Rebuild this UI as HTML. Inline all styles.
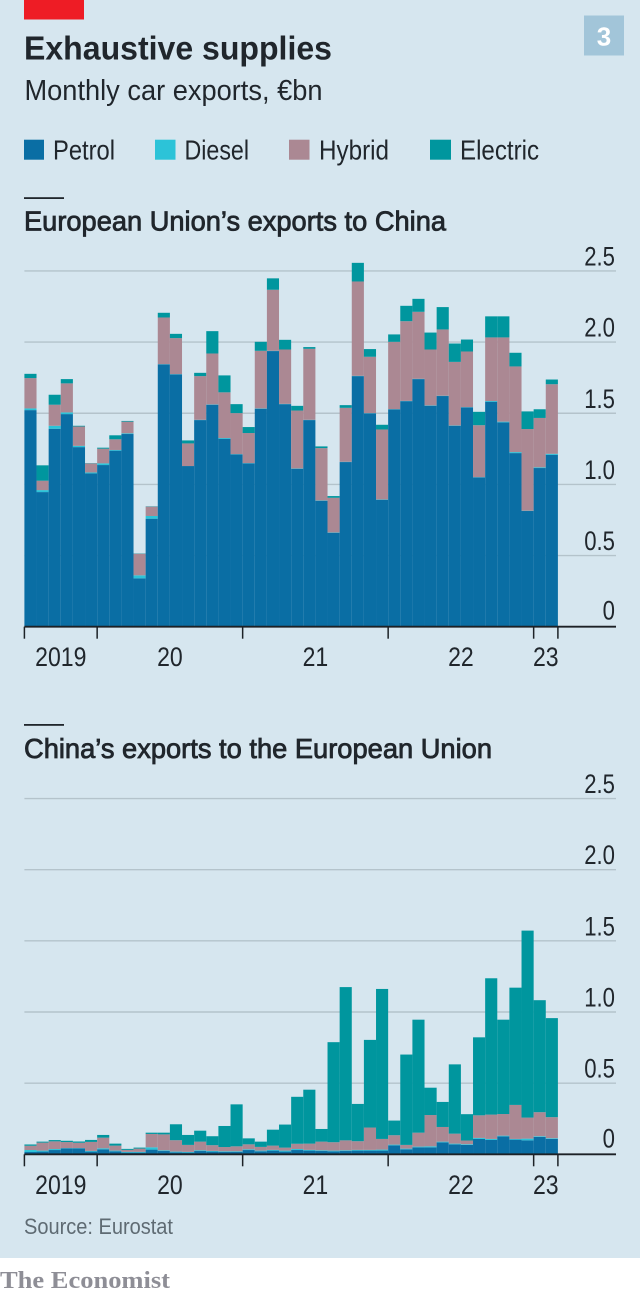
<!DOCTYPE html>
<html lang="en">
<head>
<meta charset="utf-8">
<title>Exhaustive supplies</title>
<style>
html,body{margin:0;padding:0;background:#fff;}
svg{display:block;}
text{font-family:"Liberation Sans",sans-serif;fill:#20262c;}
</style>
</head>
<body>
<svg id="chart" xmlns="http://www.w3.org/2000/svg" width="640" height="1296" viewBox="0 0 640 1296">
  <rect x="0" y="0" width="640" height="1258" fill="#d6e6ef"/>
  <rect x="24" y="0" width="60" height="19.5" fill="#ee1c25"/>
  <text x="24" y="59.5" font-size="33" font-weight="bold" textLength="308" lengthAdjust="spacingAndGlyphs">Exhaustive supplies</text>
  <text x="24.5" y="100" font-size="29" textLength="298" lengthAdjust="spacingAndGlyphs">Monthly car exports, €bn</text>
  <rect x="584" y="15.5" width="40" height="40" fill="#a2c5d9"/>
  <text x="604" y="45.5" font-size="26" font-weight="bold" text-anchor="middle" style="fill:#fff">3</text>

  <g>
    <rect x="24" y="139.7" width="20" height="20" fill="#0a6ea4"/>
    <text x="53" y="159.7" font-size="27.5" textLength="62" lengthAdjust="spacingAndGlyphs">Petrol</text>
    <rect x="155" y="139.7" width="20.5" height="20" fill="#2cc3d8"/>
    <text x="184.5" y="159.7" font-size="27.5" textLength="64.5" lengthAdjust="spacingAndGlyphs">Diesel</text>
    <rect x="289" y="139.7" width="20.5" height="20" fill="#ab8893"/>
    <text x="319" y="159.7" font-size="27.5" textLength="70" lengthAdjust="spacingAndGlyphs">Hybrid</text>
    <rect x="430" y="139.7" width="21" height="20" fill="#00969e"/>
    <text x="460" y="159.7" font-size="27.5" textLength="79" lengthAdjust="spacingAndGlyphs">Electric</text>
  </g>

  <rect x="24" y="197.2" width="40" height="1.8" fill="#20262c"/>
  <text x="24" y="230.7" font-size="28" stroke="#20262c" stroke-width="0.8" textLength="422" lengthAdjust="spacingAndGlyphs">European Union’s exports to China</text>
  <g id="eu-plot"></g>

  <rect x="24" y="724" width="40" height="1.8" fill="#20262c"/>
  <text x="24" y="758" font-size="28" stroke="#20262c" stroke-width="0.8" textLength="468" lengthAdjust="spacingAndGlyphs">China’s exports to the European Union</text>
  <g id="china-plot"></g>

  <text x="24" y="1234" font-size="22.5" style="fill:#5f6b73" textLength="149" lengthAdjust="spacingAndGlyphs">Source: Eurostat</text>
  <text x="0" y="1288" font-size="24" font-weight="bold" style="font-family:'Liberation Serif',serif;fill:#8e8e96" textLength="170" lengthAdjust="spacingAndGlyphs">The Economist</text>
</svg>

<script>
const months = ["2019-07","2019-08","2019-09","2019-10","2019-11","2019-12",
  "2020-01","2020-02","2020-03","2020-04","2020-05","2020-06","2020-07","2020-08","2020-09","2020-10","2020-11","2020-12",
  "2021-01","2021-02","2021-03","2021-04","2021-05","2021-06","2021-07","2021-08","2021-09","2021-10","2021-11","2021-12",
  "2022-01","2022-02","2022-03","2022-04","2022-05","2022-06","2022-07","2022-08","2022-09","2022-10","2022-11","2022-12",
  "2023-01","2023-02"];
const yTickValues = [0, 0.5, 1, 1.5, 2, 2.5];
const yTickLabels = ["0", "0.5", "1.0", "1.5", "2.0", "2.5"];
const yearLabels = {"2019":"2019","2020":"20","2021":"21","2022":"22","2023":"23"};

const euPetrol = [1.522,.946,1.391,1.494,1.262,1.077,1.136,1.237,1.354,.340,.759,1.843,1.773,1.129,1.452,1.560,1.321,1.211,1.148,1.532,1.937,1.564,1.110,1.452,.885,.660,1.157,1.761,1.499,.892,1.527,1.585,1.740,1.553,1.621,1.412,1.541,1.049,1.581,1.436,1.220,.813,1.115,1.208];
const euDiesel = [.012,.014,.021,.012,.009,.007,.012,.005,.005,.021,.019,.002,.002,0,.002,.002,.005,.002,.002,.002,.002,.002,.002,.002,.002,.002,.002,.002,.002,.002,.002,.002,.002,.002,.002,.002,.002,.002,.005,.005,.007,.002,.005,.007];
const euHybrid = [.213,.066,.148,.204,.136,.063,.103,.075,.082,.152,.066,.328,.253,.159,.307,.358,.321,.288,.211,.405,.429,.382,.407,.499,.368,.244,.379,.663,.396,.492,.473,.560,.471,.393,.466,.447,.391,.365,.447,.592,.602,.574,.347,.489];
const euElectric = [.030,.108,.070,.030,.005,.002,.007,.028,.005,.002,.002,.033,.030,.021,.023,.157,.119,.063,.042,.063,.080,.068,.033,.012,.012,.012,.019,.131,.054,.033,.052,.108,.091,.119,.157,.129,.084,.094,.148,.148,.096,.124,.061,.033];

const cnPetrol = [.016,.019,.030,.042,.042,.019,.035,.021,.012,.012,.033,.023,.014,.012,.023,.019,.016,.016,.030,.021,.026,.019,.030,.026,.023,.021,.023,.026,.026,.026,.063,.035,.049,.049,.084,.070,.066,.108,.101,.126,.103,.098,.122,.108];
const cnDiesel = [.014,.007,.007,.002,.002,.005,.007,.005,.005,.005,.016,.005,.005,.005,.005,.005,.005,.005,.005,.005,.005,.007,.007,.005,.005,.005,.005,.005,.005,.007,.005,.005,.005,.007,.005,.005,.005,.007,.007,.005,.005,.012,.005,.005];
const cnHybrid = [.030,.056,.054,.042,.037,.063,.075,.035,.014,.023,.094,.112,.080,.049,.061,.040,.030,.035,.035,.026,.030,.021,.037,.044,.061,.059,.070,.061,.157,.075,.066,.026,.098,.220,.103,.070,.026,.159,.171,.152,.239,.148,.169,.148];
const cnElectric = [.009,.007,.009,.009,.009,.014,.019,.014,.007,.007,.009,.012,.112,.070,.077,.063,.148,.295,.042,.037,.112,.162,.330,.379,.089,.703,1.077,.262,.616,1.054,.103,.635,.794,.192,.176,.487,.185,.548,.958,.663,.824,1.314,.787,.696];

const SVG_NS = "http://www.w3.org/2000/svg";
const X0 = 24.4, BAR_W = 12.125, PLOT_RIGHT = 616, UNIT = 142.3;
const xScale = i => X0 + i * BAR_W;

function make(tag, attrs, parent) {
  const el = document.createElementNS(SVG_NS, tag);
  for (const k in attrs) el.setAttribute(k, attrs[k]);
  parent.appendChild(el);
  return el;
}

function drawPlot(plotId, prefix, zeroY, series) {
  const plot = document.getElementById(plotId);
  const yScale = v => zeroY - v * UNIT;

  // gridlines and y labels
  yTickValues.forEach((v, t) => {
    if (v !== 0) {
      const line = make("line", {x1: X0, x2: PLOT_RIGHT, y1: yScale(v), y2: yScale(v), stroke: "#b4c3cb", "stroke-width": 1.4}, plot);
      
      
    }
    const lab = make("text", {"font-size": 27, "text-anchor": "end",
      transform: "translate(615," + (yScale(v) - (v === 0 ? 7 : 5.5)) + ") scale(0.82,1)"}, plot);
    lab.textContent = yTickLabels[t];
    
    
  });

  // stacked bars
  months.forEach((m, i) => {
    let base = 0;
    series.forEach(s => {
      const val = s.values[i];
      const r = make("rect", {x: xScale(i), width: BAR_W, y: yScale(base + val), height: val * UNIT, fill: s.color}, plot);
      
      
      base += val;
    });
  });

  // axis line
  const axis = make("line", {x1: X0, x2: PLOT_RIGHT, y1: zeroY, y2: zeroY, stroke: "#1c2126", "stroke-width": 1.8}, plot);
  
  

  // ticks: start of data, each January, end of data
  const tickSlots = [0];
  months.forEach((m, i) => { if (i > 0 && m.endsWith("-01")) tickSlots.push(i); });
  tickSlots.push(months.length);
  tickSlots.forEach(i => {
    const tick = make("line", {x1: xScale(i), x2: xScale(i), y1: zeroY, y2: zeroY + 12, stroke: "#1c2126", "stroke-width": 1.5}, plot);
    
    
  });

  // year labels centred on each year's span
  for (let t = 0; t < tickSlots.length - 1; t++) {
    const year = months[tickSlots[t]].slice(0, 4);
    const mid = (xScale(tickSlots[t]) + xScale(tickSlots[t + 1])) / 2;
    const lab = make("text", {"font-size": 26.5, "text-anchor": "middle",
      transform: "translate(" + mid + "," + (zeroY + 39.5) + ") scale(0.87,1)"}, plot);
    lab.textContent = yearLabels[year];
    
    
  }
}

drawPlot("eu-plot", "eu", 626.7, [
  {name: "petrol", values: euPetrol, color: "#0a6ea4"},
  {name: "diesel", values: euDiesel, color: "#2cc3d8"},
  {name: "hybrid", values: euHybrid, color: "#ab8893"},
  {name: "electric", values: euElectric, color: "#00969e"}
]);
drawPlot("china-plot", "cn", 1154.3, [
  {name: "petrol", values: cnPetrol, color: "#0a6ea4"},
  {name: "diesel", values: cnDiesel, color: "#2cc3d8"},
  {name: "hybrid", values: cnHybrid, color: "#ab8893"},
  {name: "electric", values: cnElectric, color: "#00969e"}
]);
</script>
</body>
</html>
